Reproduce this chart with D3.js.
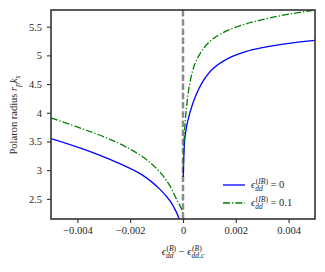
<!DOCTYPE html>
<html>
<head>
<meta charset="utf-8">
<script src="https://cdn.jsdelivr.net/npm/d3@7"></script>
<style>
  body { margin: 0; background: #fff; }
  svg { display: block; }
  text { font-family: "Liberation Serif", "DejaVu Serif", serif; fill: #262626; white-space: pre; }
</style>
</head>
<body>
<div id="chart"></div>
<script>
// Values (detuning vs polaron radius)
const blueLeftX  = [-0.005, -0.0038, -0.00253, -0.00152, -0.00088, -0.0005, -0.00025, -0.00013, -0.00005];
const blueLeftY  = [3.55, 3.37, 3.14, 2.91, 2.67, 2.47, 2.27, 2.13, 1.95];
const blueRightX = [0.00001, 0.00006, 0.00013, 0.00025, 0.00044, 0.00076, 0.00114, 0.00177, 0.0024, 0.0029, 0.0038, 0.005];
const blueRightY = [2.88, 3.50, 3.75, 3.98, 4.25, 4.55, 4.77, 4.96, 5.07, 5.125, 5.195, 5.26];
const greenLeftX  = [-0.005, -0.0038, -0.00253, -0.00152, -0.00088, -0.0005, -0.00025, -0.00006, -0.000005];
const greenLeftY  = [3.91, 3.72, 3.49, 3.23, 2.97, 2.73, 2.50, 2.33, 2.26];
const greenRightX = [0.00001, 0.00005, 0.00013, 0.00025, 0.00044, 0.00076, 0.00114, 0.00177, 0.0024, 0.0029, 0.0038, 0.005];
const greenRightY = [3.05, 3.60, 4.08, 4.49, 4.84, 5.11, 5.29, 5.45, 5.55, 5.61, 5.70, 5.79];

const xTicks = [-0.004, -0.002, 0, 0.002, 0.004];
const yTicks = [2.5, 3, 3.5, 4, 4.5, 5, 5.5];
const legendLabels = ["0", "0.1"];

const width = 325, height = 272;
const margin = {top: 10, right: 10, bottom: 53, left: 51};

const svg = d3.select('#chart').append('svg').attr('width', width).attr('height', height);

const x = d3.scaleLinear().domain([-0.005, 0.005]).range([margin.left, width - margin.right]);
const y = d3.scaleLinear().domain([2.15, 5.79]).range([height - margin.bottom, margin.top]);

svg.append('clipPath').attr('id', 'clip').append('rect')
  .attr('x', margin.left).attr('y', margin.top)
  .attr('width', width - margin.left - margin.right)
  .attr('height', height - margin.top - margin.bottom);

// helper: small math label with italic letters, sub/superscripts
function styledRuns(sel, str) {
  const runs = str.match(/[A-Za-z]+|[^A-Za-z]+/g) || [];
  runs.forEach(r => {
    sel.append('tspan').style('font-style', /[A-Za-z]/.test(r) ? 'italic' : 'normal').text(r);
  });
}
function mathText(parent, px, py, pieces, anchor, size) {
  const g = parent.append('g');
  let cx = 0;
  pieces.forEach(p => {
    let w = 0;
    if (p.t) {
      const t = g.append('text').attr('x', cx).attr('y', 0)
        .style('font-size', size + 'px').style('font-style', p.it ? 'italic' : 'normal').text(p.t);
      w = t.node().getComputedTextLength();
    }
    let w2 = 0;
    if (p.sup) {
      const s = g.append('text').attr('x', cx + w + 0.5).attr('y', -size * 0.42).style('font-size', (size * 0.72) + 'px');
      styledRuns(s, p.sup);
      w2 = Math.max(w2, s.node().getComputedTextLength() + 0.5);
    }
    if (p.sub) {
      const s = g.append('text').attr('x', cx + w).attr('y', size * 0.3).style('font-size', (size * 0.72) + 'px');
      styledRuns(s, p.sub);
      w2 = Math.max(w2, s.node().getComputedTextLength());
    }
    cx += w + w2;
  });
  const shift = anchor === 'middle' ? -cx / 2 : 0;
  g.attr('transform', `translate(${px + shift},${py})`);
  return g;
}

// axes
const fmt = d => String(d).replace('-', '\u2212');
const xAxis = svg.append('g').attr('transform', `translate(0,${height - margin.bottom})`)
  .call(d3.axisBottom(x).tickValues(xTicks).tickFormat(fmt).tickSize(4).tickPadding(4));
const yAxis = svg.append('g').attr('transform', `translate(${margin.left},0)`)
  .call(d3.axisLeft(y).tickValues(yTicks).tickFormat(d => String(d)).tickSize(4).tickPadding(5));
[xAxis, yAxis].forEach(a => {
  a.select('.domain').remove();
  a.selectAll('line').attr('stroke', '#333').attr('stroke-width', 1.1);
  a.selectAll('text').attr('font-family', null).style('font-size', '10.5px').attr('fill', '#262626');
});

// vertical dashed line at critical point
svg.append('line')
  .attr('x1', x(0)).attr('x2', x(0)).attr('y1', margin.top).attr('y2', height - margin.bottom)
  .attr('stroke', '#8c8c8c').attr('stroke-width', 2.5).attr('stroke-dasharray', '6.5,2.7');

const line = d3.line().x(d => x(d[0])).y(d => y(d[1])).curve(d3.curveCatmullRom.alpha(0.5));
const zip = (a, b) => a.map((v, i) => [v, b[i]]);
const plot = svg.append('g').attr('clip-path', 'url(#clip)');
const series = [
  {xs: blueLeftX, ys: blueLeftY, color: '#0000ff', dash: null},
  {xs: blueRightX, ys: blueRightY, color: '#0000ff', dash: null},
  {xs: greenLeftX, ys: greenLeftY, color: '#008000', dash: '7,2,1.3,2'},
  {xs: greenRightX, ys: greenRightY, color: '#008000', dash: '7,2,1.3,2'}
];
series.forEach(s => {
  plot.append('path').datum(zip(s.xs, s.ys))
    .attr('fill', 'none').attr('stroke', s.color).attr('stroke-width', 1.3)
    .attr('stroke-dasharray', s.dash).attr('d', line);
});

// frame
svg.append('rect')
  .attr('x', margin.left).attr('y', margin.top)
  .attr('width', width - margin.left - margin.right)
  .attr('height', height - margin.top - margin.bottom)
  .attr('fill', 'none').attr('stroke', '#333').attr('stroke-width', 1.6);

// legend
const legColors = ['#0000ff', '#008000'];
const legDash = [null, '7,2,1.3,2'];
legendLabels.forEach((lab, i) => {
  const ly = 185 + i * 18;
  svg.append('line').attr('x1', 223).attr('x2', 245).attr('y1', ly).attr('y2', ly)
    .attr('stroke', legColors[i]).attr('stroke-width', 1.3).attr('stroke-dasharray', legDash[i]);
  mathText(svg, 251, ly + 3, [{t: '\u03f5', it: true, sup: '(IB)', sub: 'dd'}, {t: ' = ' + lab}], 'start', 10.5);
});

// axis labels
mathText(svg, x(0), 255, [
  {t: '\u03f5', it: true, sup: '(B)', sub: 'dd'},
  {t: ' \u2212 '},
  {t: '\u03f5', it: true, sup: '(B)', sub: 'dd,c'}
], 'middle', 10.5);

const yl = svg.append('g').attr('transform', 'translate(17,115) rotate(-90)');
mathText(yl, 0, 0, [
  {t: 'Polaron radius '},
  {t: 'r', it: true, sub: 'p'},
  {t: 'k', it: true, sub: 's'}
], 'middle', 10.5);
</script>
</body>
</html>
